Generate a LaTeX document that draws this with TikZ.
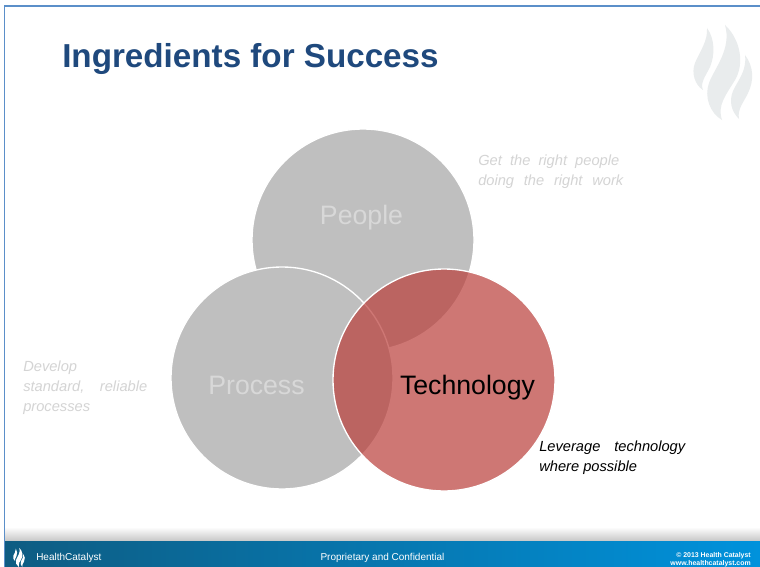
\documentclass[tikz,border=0pt]{standalone}
\usepackage{fontspec}
\setmainfont{Liberation Sans}
\usepackage{xcolor}
\usetikzlibrary{positioning,calc}
\definecolor{titleblue}{RGB}{31,73,125}
\definecolor{framblue}{RGB}{91,143,201}
\definecolor{footdark}{RGB}{14,92,130}
\definecolor{footlight}{RGB}{0,146,220}
\definecolor{circgray}{RGB}{191,191,191}
\definecolor{techred}{RGB}{186,62,58}
\definecolor{flamegray}{RGB}{233,236,237}
\definecolor{notegray}{RGB}{212,212,212}
\definecolor{wordgray}{RGB}{216,216,216}
\newcommand{\spreadline}[2]{\makebox[#1][s]{#2}}
\tikzset{
  venn/.style=
  {
    circle,
    minimum size=166.5pt,
    inner sep=0pt,
    draw=white,
    line width=1pt,
    fill=circgray
  },
  tech/.style=
  {
    venn,
    fill=techred,
    fill opacity=0.7,
    text opacity=1
  },
  word/.style=
  {
    font=\fontsize{20}{24}\selectfont,
    text=wordgray
  },
  note/.style=
  {
    font=\fontsize{11}{15}\selectfont\itshape,
    text=notegray,
    align=left,
    inner sep=0pt,
    anchor=north west
  },
  foot/.style=
  {
    text=white,
    inner sep=0pt
  },
  flame/.pic=
  {
    \fill (14,3) .. controls (22,14) and (22,30) .. (17,42)
      .. controls (12,52) and (7,58) .. (10,65)
      .. controls (2,60) and (-2,48) .. (2,38)
      .. controls (7,26) and (15,16) .. (14,3) -- cycle;
    \fill (32,0) .. controls (47,14) and (52,38) .. (42,55)
      .. controls (33,70) and (24,80) .. (29,95)
      .. controls (17,88) and (11,72) .. (16,58)
      .. controls (21,44) and (39,24) .. (32,0) -- cycle;
    \fill (52,30) .. controls (61,42) and (61,56) .. (55,68)
      .. controls (51,77) and (44,84) .. (46,94)
      .. controls (38,86) and (36,76) .. (40,66)
      .. controls (45,55) and (54,46) .. (52,30) -- cycle;
  }
}

\begin{document}
\begin{tikzpicture}[x=0.75pt,y=-0.75pt]
  \useasboundingbox (0,0) rectangle (760,567);
  \fill[white] (0,0) rectangle (760,567);
  % frame and footer
  \shade[top color=white, bottom color=black!22] (5,527) rectangle (760,541);
  \shade[left color=footdark, right color=footlight] (5,541) rectangle (760,567);
  \fill[framblue] (4,5) rectangle (760,7);
  \fill[framblue] (3.5,5) rectangle (5,567);
  \pic[fill=flamegray] at (693,25) {flame};
  \node[anchor=west, inner sep=0pt, text=titleblue,
    font=\fontsize{24.9}{30}\selectfont\bfseries] (title) at (62,58.5) {Ingredients for Success};
  % circles
  \node[venn] (people) at (363,240) {};
  \node[venn] (process) at (282,378) {};
  \node[tech] (technology) at (444,380) {};
  \node[word] (peoplelabel) at (361.5,218) {People};
  \node[word] (processlabel) at (256.5,385) {Process};
  \node[word, text=black] (techlabel) at (467.5,388) {Technology};
  % side notes
  \node[note] (peoplenote) at (478,154.5)
    {\spreadline{105.75pt}{Get the right people}\\\spreadline{108.75pt}{doing the right work}};
  \node[note] (processnote) at (23,360.5)
    {Develop\\\spreadline{93pt}{standard, reliable}\\processes};
  \node[note, text=black] (technote) at (539,440.5)
    {\spreadline{109.5pt}{Leverage technology}\\where possible};
  % footer text
  \pic[fill=white, scale=0.2] at (13,548) {flame};
  \node[foot, anchor=west, font=\fontsize{7.5}{9}\selectfont] (brand) at (36,558) {HealthCatalyst};
  \node[foot, font=\fontsize{7.5}{9}\selectfont] (conf) at (382.5,558) {Proprietary and Confidential};
  \node[foot, anchor=east, align=right, font=\fontsize{5.2}{6}\selectfont\bfseries] (copy) at (751,560)
    {© 2013 Health Catalyst\\www.healthcatalyst.com};
\end{tikzpicture}
\end{document}
